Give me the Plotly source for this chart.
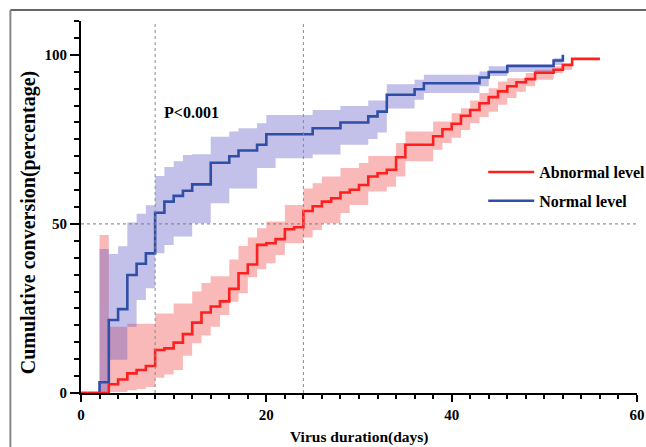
import plotly.graph_objects as go

# ---- Abnormal level (red) ----
abn_days = [0, 2, 3, 4, 5, 6, 7, 8, 9, 10, 11, 12, 13, 14, 15, 16, 17, 18, 19, 20, 21, 22, 23, 24, 25,
            26, 27, 28, 29, 30, 31, 32, 33, 34, 35, 38, 39, 40, 41, 42, 43, 44, 45, 46, 47, 48, 49, 51,
            52, 53, 56]
abn_pct = [0, 0, 2.6, 4.0, 5.8, 6.8, 8.0, 12.7, 13.2, 14.9, 17.4, 20.8, 23.8, 25.6, 27.1, 30.8, 35.4,
           38.0, 43.8, 44.3, 45.5, 48.4, 49.0, 53.8, 55.2, 56.6, 57.6, 59.3, 60.1, 61.5, 64.0, 65.0,
           66.0, 69.7, 73.4, 75.9, 78.0, 79.6, 82.0, 83.7, 85.7, 87.5, 89.2, 90.7, 91.9, 92.8, 94.7,
           95.6, 97.0, 98.8, 98.8]
abn_upper = [0, 46.7, 19.6, 19.6, 20.5, 20.5, 20.5, 23.5, 23.5, 26.5, 26.5, 30.0, 32.5, 34.5, 34.5,
             39.5, 43.5, 46.0, 48.7, 50.7, 50.7, 55.6, 55.6, 60.5, 62.0, 64.0, 64.0, 66.5, 66.5, 68.0,
             70.1, 70.1, 70.1, 73.9, 77.3, 80.3, 80.3, 82.7, 84.2, 86.5, 88.7, 90.1, 92.1, 93.1, 93.1,
             94.6, 95.6, 96.6, 97.6, 98.8, 98.8]
abn_lower = [0, 0, 0.3, 0.3, 0.8, 1.2, 1.8, 4.5, 5.5, 6.8, 11.0, 14.7, 17.0, 19.6, 23.1, 27.0, 29.5,
             34.2, 36.6, 38.4, 40.8, 44.3, 44.3, 46.0, 48.2, 50.2, 50.2, 53.2, 55.6, 55.6, 59.6, 59.6,
             61.0, 64.0, 68.5, 71.9, 73.9, 75.5, 77.8, 79.8, 81.6, 83.2, 85.2, 87.2, 89.1, 90.7, 92.6,
             94.6, 95.5, 98.8, 98.8]

# ---- Normal level (blue) ----
nor_days = [0, 2, 3, 4, 5, 6, 7, 8, 9, 10, 11, 12, 14, 16, 17, 19, 20, 21, 25, 28, 31, 32, 33, 36, 37,
            43, 44, 46, 51, 52]
nor_pct = [0, 3.2, 21.6, 24.8, 34.9, 38.2, 41.3, 53.3, 56.6, 58.3, 59.8, 61.7, 68.1, 70.0, 71.7, 73.4,
           76.5, 76.5, 78.3, 80.0, 81.8, 83.2, 88.2, 89.8, 91.6, 93.3, 94.9, 96.7, 98.3, 100]
nor_upper = [0, 42.6, 41.1, 43.4, 50.4, 53.0, 55.5, 64.2, 66.8, 68.5, 70.4, 70.6, 75.8, 77.3, 78.3,
             79.8, 82.2, 82.2, 83.7, 84.9, 86.5, 86.5, 91.3, 92.6, 94.1, 95.1, 96.6, 97.3, 99.0, 100]
nor_lower = [0, 0, 9.8, 9.8, 19.6, 27.5, 31.0, 41.3, 43.8, 46.3, 46.3, 50.2, 56.1, 60.5, 60.5, 66.5,
             66.5, 69.4, 70.5, 73.4, 75.1, 77.0, 84.1, 86.7, 88.7, 90.7, 93.7, 94.9, 97.0, 100]

ref_days = [8, 24]
ref_pct = 50
x_ticks = [0, 20, 40, 60]
y_ticks = [0, 50, 100]

SERIF = "Liberation Serif"
RED = "#ff1f1f"
BLUE = "#2f4ea6"
RED_BAND = "rgba(240,80,80,0.40)"
BLUE_BAND = "rgba(90,80,195,0.36)"

fig = go.Figure()

# confidence bands
fig.add_trace(go.Scatter(x=abn_days, y=abn_lower, mode="lines", line=dict(width=0, shape="hv"),
                         showlegend=False, hoverinfo="skip"))
fig.add_trace(go.Scatter(x=abn_days, y=abn_upper, mode="lines", line=dict(width=0, shape="hv"),
                         fill="tonexty", fillcolor=RED_BAND, showlegend=False, hoverinfo="skip"))
fig.add_trace(go.Scatter(x=nor_days, y=nor_lower, mode="lines", line=dict(width=0, shape="hv"),
                         showlegend=False, hoverinfo="skip"))
fig.add_trace(go.Scatter(x=nor_days, y=nor_upper, mode="lines", line=dict(width=0, shape="hv"),
                         fill="tonexty", fillcolor=BLUE_BAND, showlegend=False, hoverinfo="skip"))

# curves
fig.add_trace(go.Scatter(x=nor_days, y=nor_pct, mode="lines", name="Normal level",
                         line=dict(color=BLUE, width=2.6, shape="hv"), legendrank=2,
                         legendgroup="b"))
fig.add_trace(go.Scatter(x=abn_days, y=abn_pct, mode="lines", name="Abnormal level",
                         line=dict(color=RED, width=2.6, shape="hv"), legendrank=1,
                         legendgroup="a"))

# reference dotted lines
for d in ref_days:
    fig.add_shape(type="line", xref="x", yref="y", x0=d, x1=d, y0=0, y1=110,
                  line=dict(color="#8a8a8a", width=1, dash="dot"))
fig.add_shape(type="line", xref="x", yref="y", x0=0, x1=60, y0=ref_pct, y1=ref_pct,
              line=dict(color="#7a7a7a", width=1, dash="dot"))

# outer frame
fig.add_shape(type="line", xref="paper", yref="paper", x0=-0.127, x1=1.05, y0=1.0296, y1=1.0296,
              line=dict(color="#333333", width=1.5))
fig.add_shape(type="line", xref="paper", yref="paper", x0=-0.127, x1=-0.127, y0=1.0296, y1=-0.2,
              line=dict(color="#888888", width=2))

fig.add_annotation(x=8.7, y=83, xref="x", yref="y", text="<b>P<0.001</b>", showarrow=False,
                   xanchor="left", yanchor="middle", font=dict(family=SERIF, size=16, color="black"))
fig.add_annotation(x=0.5, y=-0.118, xref="paper", yref="paper", text="<b>Virus duration(days)</b>",
                   showarrow=False, xanchor="center", yanchor="middle",
                   font=dict(family=SERIF, size=15.5, color="black"))
fig.add_annotation(x=-0.093, y=0.457, xref="paper", yref="paper",
                   text="<b>Cumulative conversion(percentage)</b>", textangle=-90, showarrow=False,
                   xanchor="center", yanchor="middle", font=dict(family=SERIF, size=20, color="black"))

fig.update_layout(
    width=646, height=447,
    margin=dict(l=81, r=9, t=21, b=54, autoexpand=False),
    paper_bgcolor="white", plot_bgcolor="white",
    showlegend=True,
    legend=dict(x=0.748, y=0.653, xref="container", yref="container", xanchor="left", yanchor="top",
                bgcolor="rgba(0,0,0,0)",
                font=dict(family=SERIF, size=16, color="black", weight="bold"),
                tracegroupgap=5, traceorder="grouped", itemwidth=46),
    xaxis=dict(range=[0, 60], tickvals=x_ticks, showgrid=False, zeroline=False, automargin=False,
               showline=True, linecolor="black", linewidth=2, ticks="outside", ticklen=7,
               tickwidth=2, tickcolor="black",
               minor=dict(dtick=2, tick0=0, ticks="outside", ticklen=4, tickwidth=2,
                          tickcolor="black", showgrid=False),
               tickfont=dict(family=SERIF, size=15, color="black", weight="bold")),
    yaxis=dict(range=[0, 110], tickvals=y_ticks, showgrid=False, zeroline=False, automargin=False,
               showline=True, linecolor="black", linewidth=2, ticks="outside", ticklen=9,
               tickwidth=2, tickcolor="black",
               minor=dict(dtick=5, tick0=0, ticks="outside", ticklen=5, tickwidth=2,
                          tickcolor="black", showgrid=False),
               tickfont=dict(family=SERIF, size=15, color="black", weight="bold")),
)

fig.write_html("out.html")
